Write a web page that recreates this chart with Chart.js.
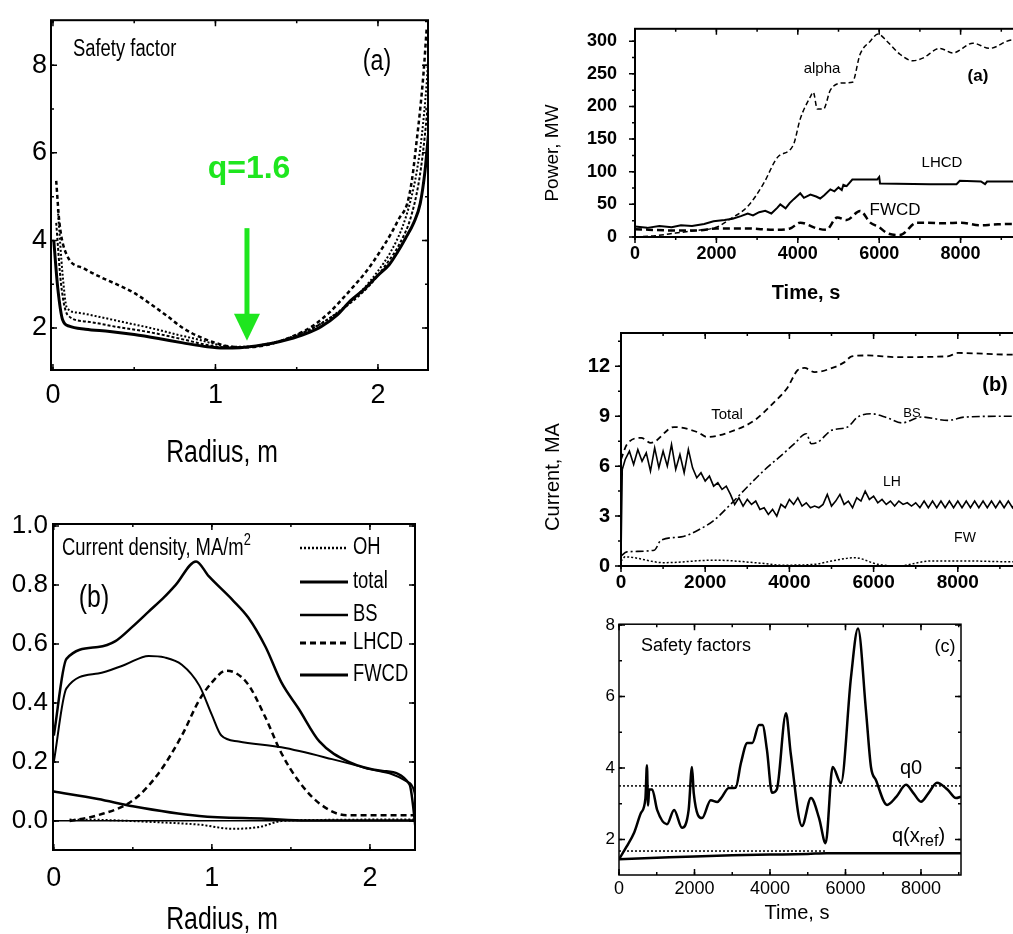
<!DOCTYPE html>
<html>
<head>
<meta charset="utf-8">
<script src="https://cdn.jsdelivr.net/npm/chart.js@4.4.0/dist/chart.umd.min.js"></script>
<style>
  html, body { margin: 0; padding: 0; background: #fff; overflow: hidden; width: 1013px; height: 934px; }
  .panel { position: absolute; }
  canvas { display: block; }
</style>
</head>
<body>
<div class="panel" style="left:0px;top:0px"><canvas id="qProfile" width="440" height="480"></canvas></div>
<div class="panel" style="left:0px;top:480px"><canvas id="jProfile" width="440" height="454"></canvas></div>
<div class="panel" style="left:540px;top:0px"><canvas id="power" width="520" height="310"></canvas></div>
<div class="panel" style="left:540px;top:310px"><canvas id="current" width="520" height="300"></canvas></div>
<div class="panel" style="left:560px;top:610px"><canvas id="qTime" width="453" height="324"></canvas></div>
<script>
// ---- (a) left: safety factor profiles
const qRadiusDash = [0.02, 0.04, 0.085, 0.19, 0.3, 0.39, 0.5, 0.6, 0.7, 0.8, 0.9, 1.0, 1.1, 1.2, 1.3, 1.4, 1.5, 1.6, 1.7, 1.77, 1.85, 1.93, 2.01, 2.08, 2.13, 2.18, 2.21, 2.24, 2.26, 2.28, 2.3];
const qDash = [5.36, 4.4, 3.67, 3.36, 3.15, 3.0, 2.8, 2.55, 2.28, 2.0, 1.8, 1.66, 1.57, 1.56, 1.6, 1.7, 1.85, 2.05, 2.35, 2.62, 2.95, 3.3, 3.73, 4.15, 4.5, 4.84, 5.4, 6.33, 7.0, 7.8, 8.84];
const qRadiusDot1 = [0.03, 0.06, 0.085, 0.15, 0.29, 0.45, 0.6, 0.75, 0.9, 1.0, 1.1, 1.2, 1.3, 1.4, 1.5, 1.6, 1.7, 1.8, 1.9, 2.0, 2.08, 2.15, 2.2, 2.24, 2.27, 2.3, 2.31];
const qDot1 = [4.7, 3.2, 2.47, 2.35, 2.25, 2.12, 2.0, 1.86, 1.73, 1.63, 1.57, 1.57, 1.62, 1.71, 1.84, 2.0, 2.22, 2.5, 2.85, 3.3, 3.75, 4.3, 4.9, 5.6, 6.4, 7.6, 8.2];
const qRadiusDot2 = [0.02, 0.05, 0.09, 0.2, 0.4, 0.6, 0.8, 0.95, 1.05, 1.2, 1.35, 1.5, 1.65, 1.8, 1.95, 2.05, 2.13, 2.2, 2.25, 2.28, 2.31];
const qDot2 = [4.4, 3.0, 2.3, 2.15, 2.02, 1.9, 1.74, 1.61, 1.56, 1.57, 1.66, 1.83, 2.1, 2.48, 2.98, 3.45, 3.9, 4.5, 5.3, 6.1, 7.2];
const qRadiusSolid = [0.005, 0.03, 0.06, 0.1, 0.2, 0.35, 0.5, 0.65, 0.8, 0.95, 1.05, 1.15, 1.25, 1.35, 1.45, 1.55, 1.65, 1.75, 1.83, 1.92, 2.0, 2.07, 2.12, 2.17, 2.22, 2.26, 2.29, 2.31];
const qSolid = [4.0, 2.9, 2.18, 2.04, 1.97, 1.92, 1.85, 1.76, 1.66, 1.57, 1.54, 1.55, 1.59, 1.65, 1.74, 1.86, 2.03, 2.3, 2.62, 2.9, 3.2, 3.45, 3.73, 4.05, 4.4, 4.84, 5.6, 6.4];
const qRadiusTicks = [0, 1, 2];
const qTicks = [2, 4, 6, 8];

// ---- (b) left: current density profiles
const ohR = [0.1, 0.3, 0.5, 0.7, 0.92, 1.13, 1.3, 1.44, 1.7, 2.0, 2.3];
const ohJ = [0.005, 0.004, 0.0, -0.005, -0.012, -0.026, -0.02, 0.0, 0.004, 0.005, 0.005];
const totalR = [0, 0.08, 0.28, 0.39, 0.5, 0.6, 0.7, 0.77, 0.9, 0.98, 1.13, 1.23, 1.34, 1.44, 1.55, 1.68, 1.87, 2.08, 2.25, 2.3];
const totalJ = [0.29, 0.55, 0.59, 0.61, 0.66, 0.71, 0.76, 0.8, 0.88, 0.83, 0.75, 0.69, 0.59, 0.47, 0.38, 0.27, 0.2, 0.17, 0.125, -0.08];
const bsR = [0, 0.08, 0.28, 0.45, 0.6, 0.7, 0.81, 0.92, 1.0, 1.06, 1.17, 1.44, 1.76, 1.97, 2.23, 2.28, 2.3];
const bsJ = [0.2, 0.45, 0.5, 0.53, 0.56, 0.555, 0.53, 0.46, 0.36, 0.29, 0.27, 0.25, 0.21, 0.18, 0.135, 0.1, 0.02];
const lhcdR = [0.1, 0.28, 0.5, 0.66, 0.81, 0.92, 1.0, 1.09, 1.22, 1.34, 1.44, 1.55, 1.68, 1.85, 2.0, 2.3];
const lhcdJ = [0.0, 0.02, 0.07, 0.16, 0.29, 0.41, 0.47, 0.51, 0.47, 0.35, 0.23, 0.135, 0.06, 0.02, 0.02, 0.02];
const fwcdR = [0, 0.28, 0.5, 0.92, 1.34, 1.6, 2.3];
const fwcdJ = [0.1, 0.075, 0.05, 0.017, 0.008, 0.002, 0.002];
const jTicks = [0, 0.2, 0.4, 0.6, 0.8, 1.0];

// ---- (a) right: powers vs time
const alphaT = [0, 500, 1000, 1500, 2000, 2350, 2770, 3160, 3500, 3890, 4060, 4310, 4380, 4480, 4630, 4800, 5120, 5340, 5530, 5780, 5970, 6190, 6510, 6830, 7070, 7490, 7810, 8300, 8710, 9280, 10000];
const alphaP = [0, 2, 6, 10, 15, 28, 47, 82, 122, 141, 181, 215, 222, 196, 196, 225, 236, 237, 280, 300, 311, 300, 280, 270, 274, 289, 282, 297, 289, 302, 300];
const lhcdT = [0, 300, 600, 900, 1130, 1400, 1700, 1930, 2200, 2400, 2600, 2770, 2900, 3050, 3200, 3350, 3500, 3570, 3700, 3800, 3900, 4060, 4150, 4310, 4450, 4550, 4650, 4800, 4900, 5000, 5080, 5120, 5200, 5340, 5950, 6000, 6020, 7250, 7900, 7980, 8500, 8600, 8650, 8700, 9300, 10000];
const lhcdP = [16, 14, 17, 15, 18, 17, 20, 24, 26, 28, 32, 36, 33, 38, 40, 36, 45, 50, 44, 52, 58, 67, 60, 65, 62, 59, 64, 73, 70, 76, 72, 80, 78, 88, 88, 92, 82, 81, 81, 86, 85, 81, 85, 85, 85, 85];
const fwcdT = [0, 1000, 1540, 2000, 2770, 3400, 3810, 4060, 4480, 4700, 4970, 5200, 5530, 5780, 6000, 6190, 6510, 6930, 7200, 7600, 8020, 8470, 8800, 9200, 10000];
const fwcdP = [12, 10, 10, 13, 13, 11, 13, 22, 13, 11, 30, 26, 40, 22, 15, 6, 3, 22, 22, 21, 22, 18, 19, 20, 19];
const powerTicks = [0, 50, 100, 150, 200, 250, 300];
const timeTicks = [0, 2000, 4000, 6000, 8000];

// ---- (b) right: currents vs time
const totT = [0, 140, 480, 710, 1260, 1810, 2050, 2690, 3170, 3640, 3950, 4190, 4360, 4600, 5070, 5310, 5480, 5860, 6570, 7760, 8000, 9290, 10000];
const totI = [6.4, 7.3, 7.7, 7.4, 8.35, 8.05, 7.75, 8.15, 8.75, 9.85, 10.7, 11.75, 11.9, 11.65, 11.95, 12.25, 12.6, 12.65, 12.55, 12.6, 12.8, 12.7, 12.7];
const bsT = [0, 140, 790, 950, 1430, 1900, 2210, 2620, 3000, 3400, 3810, 4120, 4400, 4520, 4680, 5000, 5380, 5620, 5950, 6330, 6670, 7140, 7760, 8170, 9290, 10000];
const bsI = [0.6, 0.85, 0.95, 1.55, 1.75, 2.25, 2.75, 3.75, 4.75, 5.75, 6.65, 7.35, 7.95, 7.35, 7.45, 8.15, 8.35, 8.95, 9.15, 8.9, 8.6, 8.95, 8.75, 8.95, 9.0, 9.0];
const lhTime = [0, 30, 100, 200, 300, 400, 500, 600, 700, 800,
  900, 1000, 1100, 1200, 1300, 1400, 1500, 1600, 1700, 1800,
  1900, 2000, 2100, 2200, 2300, 2400, 2500, 2600, 2700, 2800,
  2900, 3000, 3100, 3200, 3300, 3400, 3500, 3600, 3700, 3800,
  3900, 4000, 4100, 4200, 4300, 4400, 4500, 4600, 4700, 4800,
  4900, 5000, 5100, 5200, 5300, 5400, 5500, 5600, 5700, 5800,
  5900, 6000, 6100, 6200, 6300, 6400, 6500, 6600, 6700, 6800,
  6900, 7000, 7100, 7200, 7300, 7400, 7500, 7600, 7700, 7800,
  7900, 8000, 8100, 8200, 8300, 8400, 8500, 8600, 8700, 8800,
  8900, 9000, 9100, 9200, 9300, 9400];
const lhCurrent = [0.6, 5.8, 6.4, 6.9, 6.1, 7.0, 6.3, 6.8, 5.7, 7.1,
  5.9, 6.9, 6.0, 7.3, 5.8, 6.7, 5.6, 7.0, 5.9, 5.3,
  5.6, 5.1, 5.4, 4.8, 5.0, 4.6, 4.8, 4.3, 3.7, 4.1,
  3.6, 4.0, 3.7, 3.9, 3.4, 3.5, 3.1, 3.4, 3.0, 3.7,
  3.5, 4.0, 3.7, 4.1, 3.6, 3.8, 3.5, 3.6, 3.5, 3.7,
  4.3, 3.6, 3.9, 4.3, 3.7, 3.9, 3.5, 4.1, 3.9, 4.5,
  4.0, 4.2, 3.8, 4.0, 3.7, 3.9, 3.6, 3.9, 3.7, 3.8,
  3.6, 3.8, 3.5, 3.9, 3.5, 3.9, 3.5, 3.9, 3.5, 3.9,
  3.5, 3.9, 3.5, 3.9, 3.5, 3.9, 3.5, 3.9, 3.5, 3.9,
  3.5, 3.9, 3.5, 3.9, 3.5, 3.9];
const fwT = [0, 100, 1020, 2210, 3400, 3800, 4600, 5000, 5550, 6100, 6570, 7360, 8300, 9290, 10000];
const fwI = [0.3, 0.55, 0.2, 0.35, 0.15, 0.05, 0.1, 0.3, 0.5, 0.1, 0.0, 0.3, 0.3, 0.25, 0.25];
const currentTicks = [0, 3, 6, 9, 12];

// ---- (c) right: safety factors vs time
const q0T = [0, 200, 400, 580, 700, 740, 770, 800, 880, 1010, 1270, 1460, 1670, 1845, 1934, 1980, 2200, 2430, 2600, 2700, 2910, 3090, 3230, 3400, 3530, 3710, 3800, 3920, 4053, 4180, 4424, 4550, 4848, 5086, 5300, 5474, 5660, 5880, 6146, 6331, 6543, 6675, 6808, 7100, 7350, 7603, 7800, 8000, 8200, 8424, 8700, 8927, 9060];
const q0V = [1.45, 1.8, 2.19, 2.74, 3.15, 4.08, 2.95, 3.4, 3.4, 2.83, 2.43, 2.83, 2.33, 2.83, 4.03, 3.3, 2.6, 3.1, 3.05, 3.15, 3.44, 3.45, 4.14, 4.7, 4.7, 5.2, 5.2, 4.5, 3.31, 3.4, 5.53, 4.4, 2.38, 3.16, 2.6, 1.9, 4.03, 3.58, 6.54, 7.9, 5.6, 4.03, 3.66, 2.97, 3.2, 3.53, 3.3, 3.06, 3.3, 3.59, 3.4, 3.16, 3.2];
const qRefT = [0, 1000, 2000, 3000, 4000, 5000, 5500, 9060];
const qRefV = [1.45, 1.49, 1.53, 1.56, 1.58, 1.6, 1.62, 1.62];
const q0LevelT = [0, 9060];
const q0Level = [3.5, 3.5];
const qRefLevelT = [0, 5500];
const qRefLevel = [1.68, 1.68];
const qTimeTicks = [2, 4, 6, 8];

const SANS = '"Liberation Sans", Arial, Helvetica, sans-serif';
const NARROW_SX = 0.8; // the left panels use a condensed face: squeeze free text

const pts = (xs, ys) => xs.map((x, i) => ({ x, y: ys[i] }));

function line(label, xs, ys, width, dash, smooth) {
  return {
    label, data: pts(xs, ys), borderColor: '#000', borderWidth: width,
    borderDash: dash || [], pointRadius: 0, fill: false,
    cubicInterpolationMode: smooth ? 'monotone' : 'default', tension: 0
  };
}

function axis(min, max, ticks, font, pad, fit, fmt) {
  return {
    type: 'linear', min, max,
    grid: { display: false, drawTicks: false }, border: { display: false },
    afterBuildTicks: s => { s.ticks = ticks.map(v => ({ value: v })); },
    afterFit: s => { if (s.isHorizontal()) s.height = fit; else s.width = fit; },
    ticks: { font, color: '#000', padding: pad, autoSkip: false, maxRotation: 0,
      callback: fmt || (v => String(v)) }
  };
}

// frame around the plot area with small tick marks on all sides
const framePlugin = {
  id: 'frame',
  afterDatasetsDraw(chart, args, o) {
    const { ctx, chartArea: a, scales: { x, y } } = chart;
    ctx.save();
    ctx.strokeStyle = '#000';
    ctx.lineWidth = o.width || 2;
    ctx.strokeRect(a.left, a.top, a.right - a.left, a.bottom - a.top);
    ctx.lineWidth = 1.5;
    const out = o.out ? -1 : 1;
    const marks = (step, len) => {
      if (!step) return;
      for (let v = Math.ceil(x.min / step[0]) * step[0]; v <= x.max + 1e-9; v += step[0]) {
        const p = x.getPixelForValue(v);
        ctx.beginPath();
        ctx.moveTo(p, a.bottom); ctx.lineTo(p, a.bottom - len * out);
        ctx.moveTo(p, a.top); ctx.lineTo(p, a.top + len);
        ctx.stroke();
      }
      for (let v = Math.ceil(y.min / step[1]) * step[1]; v <= y.max + 1e-9; v += step[1]) {
        const p = y.getPixelForValue(v);
        ctx.beginPath();
        ctx.moveTo(a.left, p); ctx.lineTo(a.left + len * out, p);
        ctx.moveTo(a.right, p); ctx.lineTo(a.right - len, p);
        ctx.stroke();
      }
    };
    marks(o.major, 6);
    marks(o.minor, 3);
    ctx.restore();
  }
};

// free text, arrow and hand-placed legend
const notesPlugin = {
  id: 'notes',
  afterDraw(chart, args, o) {
    const ctx = chart.ctx;
    (o.items || []).forEach(it => {
      ctx.save();
      ctx.fillStyle = it.color || '#000';
      ctx.font = it.font;
      ctx.textBaseline = 'middle';
      ctx.translate(it.x, it.y);
      if (it.rot) ctx.rotate(it.rot);
      if (it.sx) ctx.scale(it.sx, 1);
      if (it.parts) {
        ctx.textAlign = 'left';
        let cx = 0;
        it.parts.forEach(p => {
          ctx.font = p.sub ? it.subFont : it.font;
          ctx.fillText(p.t, cx, p.sub ? it.subDy : 0);
          cx += ctx.measureText(p.t).width;
        });
      } else {
        ctx.textAlign = it.align || 'center';
        ctx.fillText(it.text, 0, 0);
      }
      ctx.restore();
    });
    if (o.arrow) {
      const ar = o.arrow;
      const px = chart.scales.x.getPixelForValue(ar.x);
      const y0 = chart.scales.y.getPixelForValue(ar.from);
      const y1 = chart.scales.y.getPixelForValue(ar.to);
      ctx.save();
      ctx.strokeStyle = ar.color; ctx.fillStyle = ar.color; ctx.lineWidth = ar.width;
      ctx.beginPath(); ctx.moveTo(px, y0); ctx.lineTo(px, y1 - ar.head + 2); ctx.stroke();
      ctx.beginPath();
      ctx.moveTo(px - ar.half, y1 - ar.head); ctx.lineTo(px + ar.half, y1 - ar.head); ctx.lineTo(px, y1);
      ctx.closePath(); ctx.fill();
      ctx.restore();
    }
    if (o.legend) {
      const lg = o.legend;
      chart.data.datasets.forEach((ds, i) => {
        const yy = lg.rows[i];
        ctx.save();
        ctx.strokeStyle = '#000';
        ctx.lineWidth = ds.borderWidth + 0.5;
        ctx.setLineDash(ds.borderDash || []);
        ctx.beginPath(); ctx.moveTo(lg.x, yy); ctx.lineTo(lg.x + lg.len, yy); ctx.stroke();
        ctx.setLineDash([]);
        ctx.fillStyle = '#000';
        ctx.font = lg.font;
        ctx.textAlign = 'left'; ctx.textBaseline = 'middle';
        ctx.translate(lg.x + lg.len + 5, yy);
        ctx.scale(lg.sx || 1, 1);
        ctx.fillText(ds.label, 0, 0);
        ctx.restore();
      });
    }
  }
};

const base = {
  responsive: false, animation: false, devicePixelRatio: 1,
  plugins: { legend: { display: false }, tooltip: { enabled: false } }
};

// ---------- left top
new Chart(document.getElementById('qProfile'), {
  type: 'line',
  data: { datasets: [
    line('dashed', qRadiusDash, qDash, 2.5, [4, 3], true),
    line('dotted 1', qRadiusDot1, qDot1, 2, [2, 2], true),
    line('dotted 2', qRadiusDot2, qDot2, 2, [3, 2], true),
    line('solid', qRadiusSolid, qSolid, 3, null, true)
  ] },
  options: { ...base,
    layout: { padding: { top: 12, right: 12, left: 0, bottom: 0 } },
    scales: {
      x: axis(-0.012, 2.308, qRadiusTicks, { family: SANS, size: 27 }, 9, 110),
      y: axis(1.04, 9.03, qTicks, { family: SANS, size: 27 }, 4, 51)
    },
    plugins: { ...base.plugins,
      frame: { width: 2, major: [1, 2], minor: [0.5, 1] },
      notes: {
        items: [
          { text: 'Safety factor', x: 73, y: 50, font: '23px ' + SANS, align: 'left', sx: NARROW_SX },
          { text: '(a)', x: 377, y: 62, font: '29px ' + SANS, sx: NARROW_SX },
          { text: 'q=1.6', x: 249, y: 169, font: 'bold 32px ' + SANS, color: '#1ee61e' },
          { text: 'Radius, m', x: 222, y: 453, font: '31px ' + SANS, sx: NARROW_SX }
        ],
        arrow: { x: 1.194, from: 4.28, to: 1.71, color: '#1ee61e', width: 5, head: 27, half: 13 }
      }
    }
  },
  plugins: [framePlugin, notesPlugin]
});

// ---------- left bottom
new Chart(document.getElementById('jProfile'), {
  type: 'line',
  data: { datasets: [
    line('OH', ohR, ohJ, 2, [2, 2], true),
    line('total', totalR, totalJ, 2.5, null, true),
    line('BS', bsR, bsJ, 2, null, true),
    line('LHCD', lhcdR, lhcdJ, 2.5, [6, 4], true),
    line('FWCD', fwcdR, fwcdJ, 2.5, null, true)
  ] },
  options: { ...base,
    layout: { padding: { top: 44, right: 25, left: 0, bottom: 0 } },
    scales: {
      x: axis(-0.005, 2.285, qRadiusTicks, { family: SANS, size: 27 }, 12, 84),
      y: (() => {
        const ax = axis(-0.098, 1.007, jTicks, { family: SANS, size: 26 }, 5, 53, v => v.toFixed(1));
        ax.grid = { display: true, drawTicks: false,
          color: c => (c.tick && c.tick.value === 0 ? '#000' : 'rgba(0,0,0,0)'), lineWidth: 1.5 };
        return ax;
      })()
    },
    plugins: { ...base.plugins,
      frame: { width: 2, major: [1, 0.2], minor: [0.5, 0.2] },
      notes: {
        items: [
          { x: 62, y: 69, font: '23px ' + SANS, sx: NARROW_SX, parts: [{ t: 'Current density, MA/m' }, { t: '2', sub: true }], subFont: '16px ' + SANS, subDy: -8 },
          { text: '(b)', x: 94, y: 118, font: '31px ' + SANS, sx: NARROW_SX },
          { text: 'Radius, m', x: 222, y: 440, font: '31px ' + SANS, sx: NARROW_SX }
        ],
        legend: { x: 300, len: 48, rows: [68, 102, 135, 163, 195], font: '23px ' + SANS, sx: NARROW_SX }
      }
    }
  },
  plugins: [framePlugin, notesPlugin]
});

// ---------- right top: power
new Chart(document.getElementById('power'), {
  type: 'line',
  data: { datasets: [
    line('alpha', alphaT, alphaP, 1.5, [5, 3], true),
    line('LHCD', lhcdT, lhcdP, 2, null, false),
    line('FWCD', fwcdT, fwcdP, 2.5, [7, 4], true)
  ] },
  options: { ...base,
    layout: { padding: { top: 22, right: 18, left: 0, bottom: 0 } },
    scales: {
      x: axis(0, 10000, timeTicks, { family: SANS, size: 18, weight: 'bold' }, 6, 73),
      y: axis(0, 319, powerTicks, { family: SANS, size: 18, weight: 'bold' }, 18, 95)
    },
    plugins: { ...base.plugins,
      frame: { width: 2, out: true, major: [2000, 50], minor: [1000, 25] },
      notes: {
        items: [
          { text: 'Power, MW', x: 13, y: 153, font: '19px ' + SANS, rot: -Math.PI / 2 },
          { text: 'Time, s', x: 266, y: 293, font: 'bold 20px ' + SANS },
          { text: 'alpha', x: 282, y: 69, font: '15px ' + SANS },
          { text: '(a)', x: 438, y: 76, font: 'bold 17px ' + SANS },
          { text: 'LHCD', x: 402, y: 163, font: '15px ' + SANS },
          { text: 'FWCD', x: 355, y: 210, font: '17px ' + SANS }
        ]
      }
    }
  },
  plugins: [framePlugin, notesPlugin]
});

// ---------- right middle: current
new Chart(document.getElementById('current'), {
  type: 'line',
  data: { datasets: [
    line('Total', totT, totI, 1.8, [6, 4], true),
    line('BS', bsT, bsI, 1.6, [8, 3, 2, 3], true),
    line('LH', lhTime, lhCurrent, 1.6, null, false),
    line('FW', fwT, fwI, 1.5, [2, 2], true)
  ] },
  options: { ...base,
    layout: { padding: { top: 23, right: 18, left: 0, bottom: 0 } },
    scales: {
      x: axis(0, 10000, timeTicks, { family: SANS, size: 19, weight: 'bold' }, 5, 44),
      y: axis(0, 14, currentTicks, { family: SANS, size: 20, weight: 'bold' }, 11, 81)
    },
    plugins: { ...base.plugins,
      frame: { width: 2, out: true, major: [2000, 3], minor: [1000, 1.5] },
      notes: {
        items: [
          { text: 'Current, MA', x: 13, y: 167, font: '20px ' + SANS, rot: -Math.PI / 2 },
          { text: 'Total', x: 187, y: 105, font: '15px ' + SANS },
          { text: 'BS', x: 372, y: 103, font: '13px ' + SANS },
          { text: 'LH', x: 352, y: 172, font: '14px ' + SANS },
          { text: 'FW', x: 425, y: 228, font: '14px ' + SANS },
          { text: '(b)', x: 455, y: 75, font: 'bold 20px ' + SANS }
        ]
      }
    }
  },
  plugins: [framePlugin, notesPlugin]
});

// ---------- right bottom: safety factors vs time
new Chart(document.getElementById('qTime'), {
  type: 'line',
  data: { datasets: [
    line('q0', q0T, q0V, 2.5, null, true),
    line('q(xref)', qRefT, qRefV, 2.5, null, true),
    line('q0 level', q0LevelT, q0Level, 1.5, [2, 2], false),
    line('q(xref) level', qRefLevelT, qRefLevel, 1.5, [2, 2], false)
  ] },
  options: { ...base,
    layout: { padding: { top: 14, right: 52, left: 0, bottom: 0 } },
    scales: {
      x: axis(0, 9060, timeTicks, { family: SANS, size: 18 }, 3, 59),
      y: axis(1.01, 8.02, qTimeTicks, { family: SANS, size: 17 }, 4, 59)
    },
    plugins: { ...base.plugins,
      frame: { width: 1.5, major: [2000, 2], minor: [1000, 1] },
      notes: {
        items: [
          { text: 'Safety factors', x: 136, y: 36, font: '18px ' + SANS },
          { text: '(c)', x: 385, y: 37, font: '18px ' + SANS },
          { text: 'q0', x: 351, y: 158, font: '20px ' + SANS },
          { x: 332, y: 226, font: '20px ' + SANS, parts: [{ t: 'q(x' }, { t: 'ref', sub: true }, { t: ')' }], subFont: '16px ' + SANS, subDy: 6 },
          { text: 'Time, s', x: 237, y: 303, font: '20px ' + SANS }
        ]
      }
    }
  },
  plugins: [framePlugin, notesPlugin]
});
</script>
</body>
</html>
